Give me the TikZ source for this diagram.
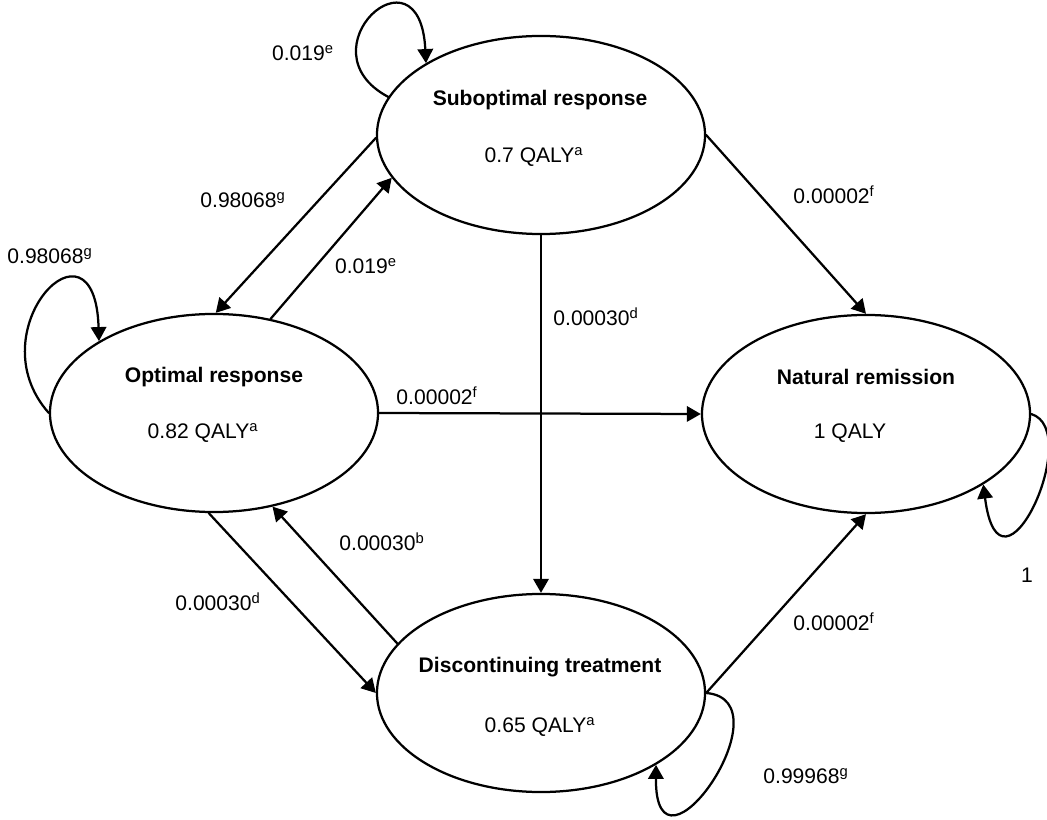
\documentclass[tikz,border=0pt]{standalone}
\usepackage{fontspec}
\setmainfont{Liberation Sans}
\usepackage{tikz}
\usetikzlibrary{arrows.meta,shapes.geometric}
\tikzset{
  every picture/.style={line join=round, line cap=round},
  state/.style={draw, ellipse, line width=1.6pt, minimum width=8.2cm, minimum height=4.95cm, inner sep=0pt},
  head/.style={font=\fontsize{15}{18}\selectfont\bfseries},
  txt/.style={font=\fontsize{15}{18}\selectfont},
  link/.style={line width=1.6pt, -{Triangle[length=10pt,width=11pt]}},
}
\newcommand{\sps}[1]{\textsuperscript{#1}}

\begin{document}
\begin{tikzpicture}[x=0.025cm, y=-0.025cm]
\useasboundingbox (0,0) rectangle (1047,820);
% states
\node[state] (sub) at (541,135) {};
\node[state] (opt) at (214,413) {};
\node[state] (nat) at (866,414) {};
\node[state] (dis) at (541,693) {};
\node[head] (subT) at (540,100) {Suboptimal response};
\node[txt] (subQ) at (534,157) {0.7 QALY\sps{a}};
\node[head] (optT) at (214,377) {Optimal response};
\node[txt] (optQ) at (203,433) {0.82 QALY\sps{a}};
\node[head] (natT) at (866,377) {Natural remission};
\node[txt] (natQ) at (850,433) {1 QALY};
\node[head] (disT) at (540,667) {Discontinuing treatment};
\node[txt] (disQ) at (540,727) {0.65 QALY\sps{a}};
% transitions
\draw[link] (sub.181) -- (opt.89);
\draw[link] (opt.59) -- (sub.-164.5);
\draw[link] (sub.east) -- (nat.north);
\draw[link] (sub.south) -- (dis.north);
\draw[link] (opt.east) -- (nat.west);
\draw[link] (opt.-93) -- (dis.west);
\draw[link] (dis.161.4) -- (opt.-58.3);
\draw[link] (dis.east) -- (nat.south);
% self loops
\draw[link] (sub.166) .. controls (300,50) and (420,-60) .. (sub.148);
\draw[link] (opt.180) .. controls (-25,330) and (95,205) .. (opt.148.5);
\draw[link] (nat.0) .. controls (1085,430) and (1000,615) .. (nat.-31.3);
\draw[link] (dis.0) .. controls (790,700) and (655,895) .. (dis.-32.3);
% probabilities
\node[txt] (pSS) at (303,53) {0.019\sps{e}};
\node[txt] (pOO) at (50,256) {0.98068\sps{g}};
\node[txt] (pSO) at (243,200) {0.98068\sps{g}};
\node[txt] (pOS) at (366,266) {0.019\sps{e}};
\node[txt] (pSN) at (834,195) {0.00002\sps{f}};
\node[txt] (pSD) at (596,317) {0.00030\sps{d}};
\node[txt] (pON) at (437,396) {0.00002\sps{f}};
\node[txt] (pOD) at (218,602) {0.00030\sps{d}};
\node[txt] (pDO) at (382,542) {0.00030\sps{b}};
\node[txt] (pDN) at (834,622) {0.00002\sps{f}};
\node[txt] (pNN) at (1027,575) {1};
\node[txt] (pDD) at (806,776) {0.99968\sps{g}};
\end{tikzpicture}
\end{document}
